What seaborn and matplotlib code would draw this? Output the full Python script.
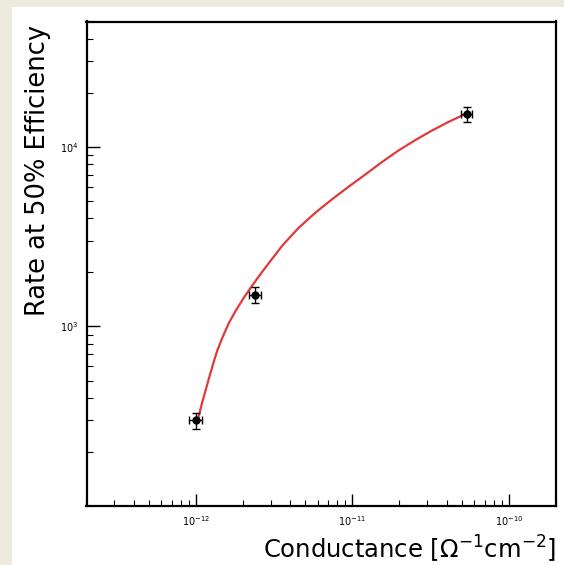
import matplotlib
matplotlib.use("Agg")
import matplotlib.pyplot as plt
from matplotlib.patches import Rectangle
from matplotlib.ticker import LogLocator, NullFormatter, LogFormatterMathtext
import seaborn as sns
import pandas as pd

# measured points
conductance = [1.0e-12, 2.4e-12, 5.4e-11]
rate = [300, 1500, 15200]
rate_err = [30, 150, 1500]
cond_err = [0.09e-12, 0.2e-12, 4.5e-12]

# fitted curve
fit_cond = [1.02e-12, 1.10e-12, 1.19e-12, 1.28e-12, 1.37e-12, 1.48e-12, 1.63e-12,
            1.80e-12, 2.03e-12, 2.29e-12, 2.53e-12, 2.79e-12, 3.56e-12, 4.54e-12,
            5.80e-12, 7.40e-12, 9.44e-12, 1.21e-11, 1.54e-11, 1.96e-11, 2.51e-11,
            3.20e-11, 4.08e-11, 4.96e-11, 5.35e-11]
fit_rate = [294, 381, 486, 607, 735, 871, 1052,
            1227, 1452, 1690, 1905, 2138, 2818, 3548,
            4305, 5105, 5998, 7031, 8222, 9528, 10890,
            12300, 13740, 14890, 15350]

x_ticks = [1e-12, 1e-11, 1e-10]
y_ticks = [1e3, 1e4]

sns.set_style("white")
plt.rcParams['font.family'] = ['DejaVu Sans']
plt.rcParams['text.color'] = 'black'
plt.rcParams['xtick.color'] = 'black'
plt.rcParams['ytick.color'] = 'black'

fig = plt.figure(figsize=(5.64, 5.65), dpi=100)
fig.patch.set_facecolor("#ede9df")
fig.add_artist(Rectangle((12 / 564, 0), 1, 1 - 7 / 565, transform=fig.transFigure,
                         facecolor="white", edgecolor="none", zorder=0))

ax = fig.add_axes([86.5 / 564, 1 - 506 / 565, (556 - 86.5) / 564, (506 - 21.5) / 565])
ax.set_facecolor("white")

df_fit = pd.DataFrame({"cond": fit_cond, "rate": fit_rate})
sns.lineplot(data=df_fit, x="cond", y="rate", ax=ax, color="#e03a3a", lw=1.6, zorder=2)

ax.errorbar(conductance, rate, yerr=rate_err, xerr=cond_err, fmt="o", color="black",
            ms=5, elinewidth=1, capsize=3, capthick=1, zorder=3)

ax.set_xscale("log")
ax.set_yscale("log")

for s in ax.spines.values():
    s.set_color("black")
    s.set_linewidth(1.6)

ax.set_xticks(x_ticks)
ax.set_yticks(y_ticks)
ax.xaxis.set_minor_locator(LogLocator(base=10, subs=range(2, 10), numticks=20))
ax.yaxis.set_minor_locator(LogLocator(base=10, subs=range(2, 10), numticks=20))
ax.xaxis.set_minor_formatter(NullFormatter())
ax.yaxis.set_minor_formatter(NullFormatter())
ax.xaxis.set_major_formatter(LogFormatterMathtext())
ax.yaxis.set_major_formatter(LogFormatterMathtext())
ax.set_xlim(2e-13, 2e-10)
ax.set_ylim(100, 5e4)

ax.tick_params(which="major", direction="in", length=9, width=1, labelsize=7,
               bottom=True, left=True, top=False, right=False, pad=6)
ax.tick_params(which="minor", direction="in", length=4.5, width=0.8,
               bottom=True, left=True, top=False, right=False)

ax.set_xlabel("")
ax.set_ylabel("")
fig.text(556 / 564, 1 - 549 / 565, r"Conductance [$\Omega^{-1}$cm$^{-2}$]",
         ha="right", va="center", fontsize=17.5)
fig.text(38 / 564, 1 - 170 / 565, "Rate at 50% Efficiency", rotation=90,
         ha="center", va="center", fontsize=18.5)

fig.savefig("out.png", dpi=100)
